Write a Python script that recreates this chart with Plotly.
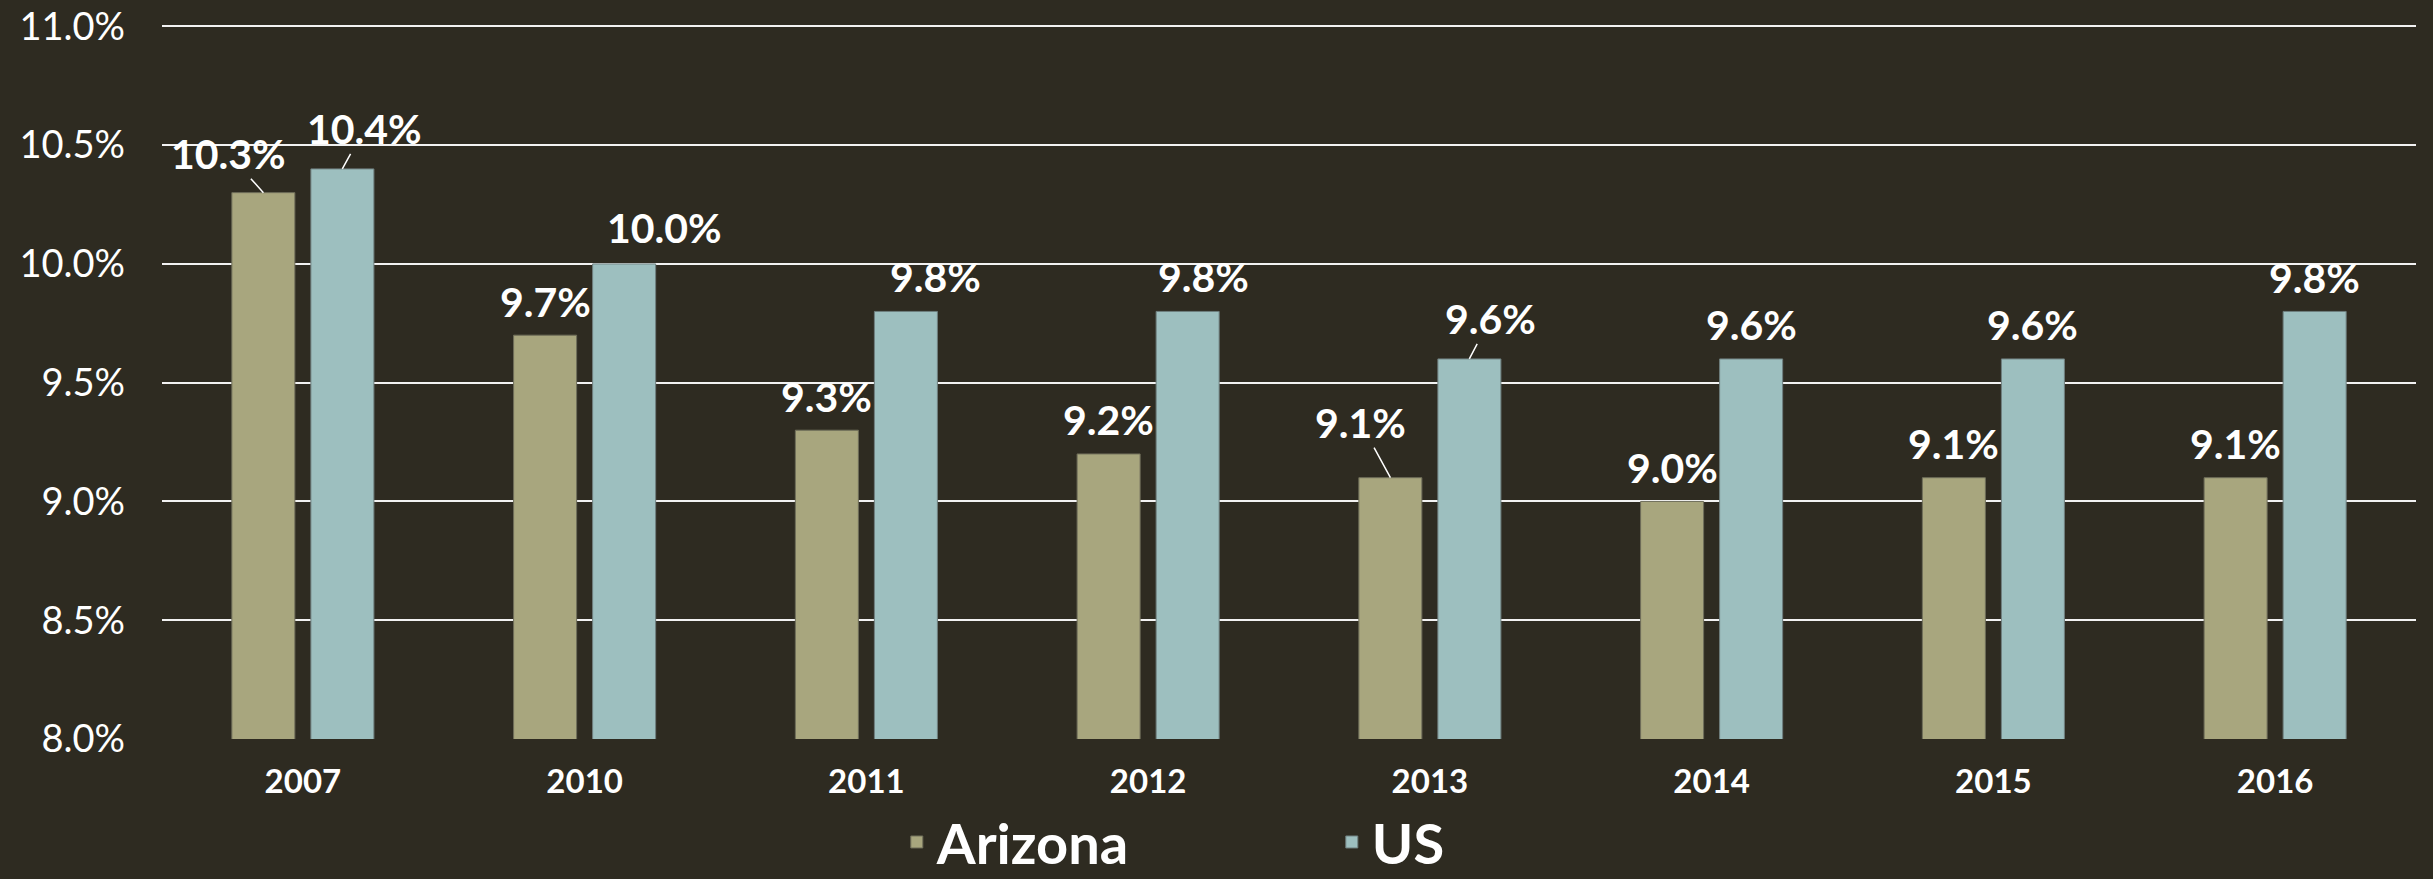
import plotly.graph_objects as go

years = ["2007", "2010", "2011", "2012", "2013", "2014", "2015", "2016"]
arizona = [10.3, 9.7, 9.3, 9.2, 9.1, 9.0, 9.1, 9.1]
us = [10.4, 10.0, 9.8, 9.8, 9.6, 9.6, 9.6, 9.8]
y_ticks = [8.0, 8.5, 9.0, 9.5, 10.0, 10.5, 11.0]
y_tick_text = [f"{v:.1f}%" for v in y_ticks]

# label placement offsets (pixels) relative to the top of each bar
az_dx = [-35, 0, 0, 0, -30, 0, 0, 0]
az_dy = [-39, -34, -34, -34, -55, -34, -34, -34]
az_leader = [True, False, False, False, True, False, False, False]
us_dx = [22, 40, 30, 16, 21, 0, 0, 0]
us_dy = [-40, -36, -35, -35, -40, -34, -34, -34]
us_leader = [True, False, False, False, True, False, False, False]

BG = "#2E2B21"
AZ_COLOR = "#A8A67E"
US_COLOR = "#9DBFBF"
FONT = "Lato"

fig = go.Figure()
fig.add_trace(go.Bar(x=years, y=arizona, name="Arizona",
                     marker=dict(color=AZ_COLOR, line=dict(color="#6f6e5a", width=1))))
fig.add_trace(go.Bar(x=years, y=us, name="US",
                     marker=dict(color=US_COLOR, line=dict(color="#6f7f7f", width=1))))

annotations = []
OFF = 0.14
for i, yr in enumerate(years):
    for vals, dxs, dys, leads, sign in ((arizona, az_dx, az_dy, az_leader, -1),
                                         (us, us_dx, us_dy, us_leader, 1)):
        v = vals[i]
        base = dict(x=i + sign * OFF, y=v, xref="x", yref="y",
                    text=f"{v:.1f}%",
                    font=dict(family=FONT, size=41, color="white", weight="bold"))
        if leads[i]:
            base.update(showarrow=True, ax=dxs[i], ay=dys[i], arrowhead=0,
                        arrowwidth=1.5, arrowcolor="white", standoff=0,
                        borderpad=0)
        else:
            base.update(showarrow=False, xshift=dxs[i], yshift=-dys[i],
                        xanchor="center", yanchor="middle")
        annotations.append(base)

fig.update_layout(
    width=2433, height=879,
    paper_bgcolor=BG, plot_bgcolor=BG,
    margin=dict(l=162, r=17, t=24, b=140, autoexpand=False),
    barmode="group", bargap=0.439, bargroupgap=0.2025,
    font=dict(family=FONT, color="white"),
    xaxis=dict(type="category", showgrid=False, showline=False, ticks="",
               tickfont=dict(family=FONT, size=33, color="white", weight="bold"),
               ticklabelstandoff=20),
    yaxis=dict(range=[8.0, 11.01], tickvals=y_ticks, ticktext=y_tick_text,
               showgrid=True, gridcolor="#F2F2F2", gridwidth=1.5,
               zeroline=False, showline=False, ticks="",
               tickfont=dict(family=FONT, size=38, color="white"),
               ticklabelstandoff=36),
    legend=dict(orientation="h", x=0.326, xanchor="left",
                yref="container", y=0.042, yanchor="middle",
                font=dict(family=FONT, size=56, color="white", weight="bold"),
                entrywidth=390, bgcolor="rgba(0,0,0,0)", itemwidth=30),
    annotations=annotations,
)

fig.write_html("out.html", config={"displayModeBar": False},
               post_script="document.body.style.margin='0';document.body.style.overflow='hidden';")
